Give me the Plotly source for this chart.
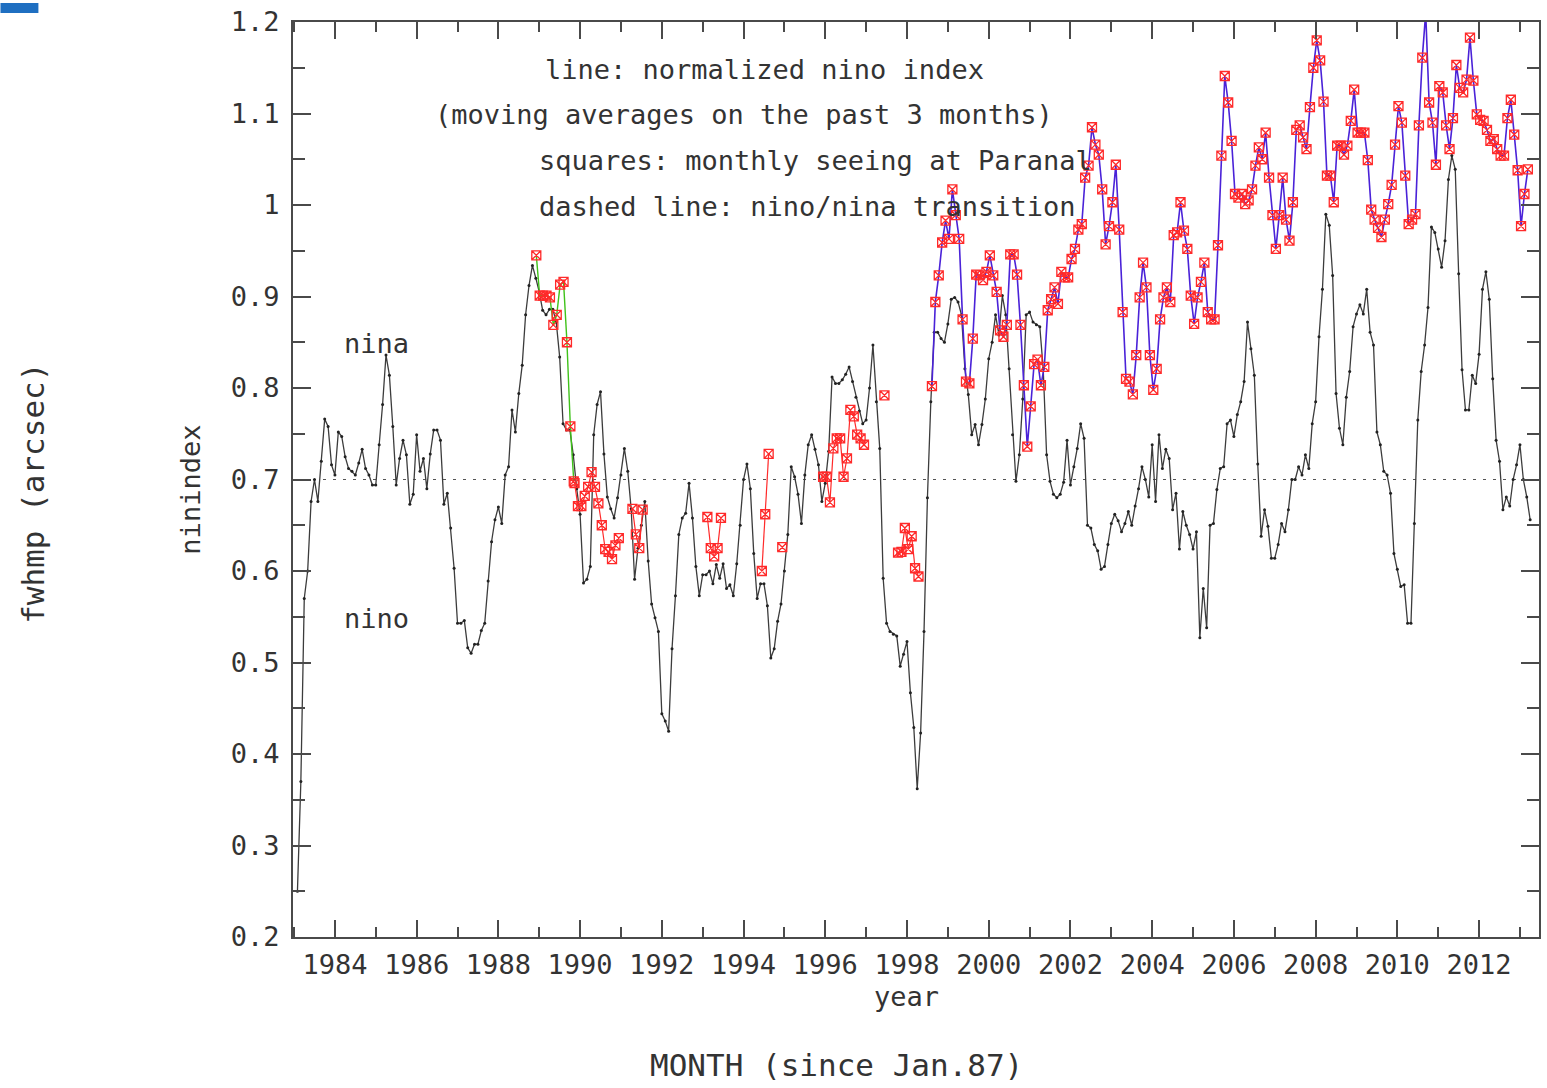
import plotly.graph_objects as go

# ---------------- data ----------------
# normalized nino index (3-month moving average), monthly
nino_start = 1983.083
nino_index = [
    0.25, 0.37, 0.57, 0.60, 0.676, 0.70, 0.676, 0.72, 0.766, 0.758,
    0.716, 0.705, 0.752, 0.747, 0.725, 0.712, 0.709, 0.705, 0.718, 0.733,
    0.712, 0.705, 0.694, 0.694, 0.738, 0.782, 0.836, 0.814, 0.758, 0.694,
    0.723, 0.743, 0.727, 0.673, 0.684, 0.749, 0.709, 0.723, 0.690, 0.728,
    0.754, 0.754, 0.743, 0.673, 0.685, 0.647, 0.603, 0.543, 0.543, 0.546,
    0.516, 0.510, 0.520, 0.520, 0.535, 0.543, 0.589, 0.632, 0.656, 0.670,
    0.652, 0.705, 0.714, 0.776, 0.752, 0.794, 0.825, 0.880, 0.912, 0.934,
    0.920, 0.905, 0.885, 0.880, 0.886, 0.886, 0.872, 0.834, 0.761, 0.754,
    0.754, 0.727, 0.690, 0.662, 0.587, 0.591, 0.605, 0.749, 0.782, 0.796,
    0.728, 0.681, 0.668, 0.658, 0.680, 0.705, 0.734, 0.709, 0.668, 0.591,
    0.625, 0.650, 0.676, 0.611, 0.564, 0.549, 0.534, 0.444, 0.436, 0.425,
    0.515, 0.573, 0.640, 0.658, 0.663, 0.696, 0.658, 0.605, 0.573, 0.596,
    0.596, 0.600, 0.586, 0.607, 0.592, 0.608, 0.581, 0.585, 0.573, 0.608,
    0.650, 0.700, 0.717, 0.690, 0.619, 0.570, 0.586, 0.586, 0.562, 0.505,
    0.515, 0.545, 0.564, 0.600, 0.640, 0.714, 0.703, 0.684, 0.652, 0.705,
    0.738, 0.749, 0.733, 0.716, 0.676, 0.696, 0.731, 0.812, 0.805, 0.805,
    0.809, 0.815, 0.823, 0.807, 0.790, 0.775, 0.761, 0.765, 0.800, 0.847,
    0.785, 0.734, 0.592, 0.543, 0.534, 0.531, 0.529, 0.496, 0.509, 0.523,
    0.467, 0.429, 0.362, 0.423, 0.534, 0.680, 0.785, 0.861, 0.861, 0.854,
    0.850, 0.870, 0.897, 0.899, 0.894, 0.880, 0.821, 0.793, 0.749, 0.760,
    0.738, 0.760, 0.788, 0.832, 0.850, 0.880, 0.858, 0.901, 0.880, 0.821,
    0.749, 0.698, 0.727, 0.788, 0.880, 0.883, 0.872, 0.869, 0.867, 0.821,
    0.727, 0.698, 0.684, 0.680, 0.684, 0.697, 0.743, 0.694, 0.714, 0.734,
    0.761, 0.745, 0.650, 0.647, 0.629, 0.622, 0.602, 0.605, 0.629, 0.652,
    0.662, 0.655, 0.643, 0.652, 0.665, 0.650, 0.671, 0.690, 0.714, 0.700,
    0.681, 0.738, 0.676, 0.749, 0.712, 0.733, 0.723, 0.667, 0.685, 0.624,
    0.665, 0.650, 0.640, 0.624, 0.643, 0.527, 0.581, 0.538, 0.650, 0.652,
    0.689, 0.712, 0.714, 0.761, 0.765, 0.747, 0.771, 0.785, 0.807, 0.872,
    0.843, 0.814, 0.717, 0.638, 0.667, 0.649, 0.614, 0.614, 0.629, 0.652,
    0.643, 0.667, 0.700, 0.700, 0.714, 0.705, 0.727, 0.712, 0.761, 0.785,
    0.856, 0.908, 0.990, 0.978, 0.923, 0.794, 0.756, 0.738, 0.790, 0.818,
    0.867, 0.881, 0.891, 0.881, 0.908, 0.861, 0.847, 0.752, 0.738, 0.709,
    0.705, 0.685, 0.619, 0.602, 0.583, 0.585, 0.543, 0.543, 0.652, 0.765,
    0.818, 0.847, 0.888, 0.976, 0.970, 0.952, 0.932, 0.961, 1.028, 1.054,
    1.039, 0.925, 0.820, 0.776, 0.776, 0.814, 0.805, 0.837, 0.908, 0.927,
    0.897, 0.810, 0.743, 0.720, 0.667, 0.681, 0.671, 0.700, 0.716, 0.738,
    0.700, 0.681, 0.656,
]

# monthly seeing at Paranal (fwhm, arcsec) - three instrument periods
seeing_green_start = 1988.928
seeing_green = [0.945, 0.901, 0.901, 0.901, 0.899, 0.869, 0.880, 0.913,
                0.916, 0.850, 0.758, 0.698]

seeing_red_start = 1989.864
seeing_red = (
    [0.696, 0.671, 0.671, 0.682, 0.692, 0.708, 0.692, 0.674, 0.650, 0.624,
     0.621, 0.613, 0.628, 0.636]
    + [None] * 3
    + [0.668, 0.640, 0.625, 0.667]
    + [None] * 18
    + [0.659, 0.625, 0.616, 0.625, 0.658]
    + [None] * 11
    + [0.600, 0.662, 0.728]
    + [None] * 3
    + [0.626]
    + [None] * 11
    + [0.703, 0.703, 0.675, 0.734, 0.745, 0.745, 0.703, 0.723, 0.776, 0.769,
       0.749, 0.745, 0.738]
    + [None] * 5
    + [0.792]
    + [None] * 3
    + [0.620, 0.621, 0.647, 0.624, 0.638, 0.603, 0.594]
)

seeing_blue_start = 1998.61
seeing_blue = [
    0.802, 0.894, 0.923, 0.959, 0.983, 0.963, 1.017, 0.989, 0.963, 0.875,
    0.807, 0.805, 0.854, 0.924, 0.923, 0.918, 0.927, 0.945, 0.923, 0.905,
    0.863, 0.856, 0.869, 0.946, 0.946, 0.924, 0.869, 0.803, 0.736, 0.780,
    0.826, 0.831, 0.803, 0.823, 0.885, 0.897, 0.910, 0.892, 0.927, 0.921,
    0.921, 0.941, 0.952, 0.973, 0.979, 1.030, 1.043, 1.085, 1.066, 1.055,
    1.017, 0.957, 0.977, 1.003, 1.044, 0.973, 0.883, 0.810, 0.807, 0.793,
    0.836, 0.899, 0.937, 0.910, 0.836, 0.798, 0.821, 0.875, 0.899, 0.910,
    0.894, 0.967, 0.970, 1.003, 0.972, 0.952, 0.901, 0.870, 0.899, 0.916,
    0.937, 0.883, 0.875, 0.875, 0.956, 1.054, 1.141, 1.112, 1.070, 1.012,
    1.008, 1.012, 1.001, 1.005, 1.017, 1.043, 1.063, 1.050, 1.079, 1.030,
    0.989, 0.952, 0.989, 1.030, 0.984, 0.961, 1.003, 1.082, 1.087, 1.074,
    1.061, 1.107, 1.150, 1.180, 1.158, 1.113, 1.032, 1.032, 1.003, 1.065,
    1.065, 1.055, 1.065, 1.092, 1.126, 1.079, 1.079, 1.079, 1.049, 0.995,
    0.984, 0.975, 0.965, 0.984, 1.001, 1.022, 1.066, 1.108, 1.090, 1.032,
    0.979, 0.984, 0.990, 1.087, 1.161, 1.210, 1.112, 1.090, 1.044, 1.130,
    1.123, 1.087, 1.061, 1.095, 1.153, 1.128, 1.123, 1.137, 1.183, 1.136,
    1.099, 1.093, 1.092, 1.082, 1.070, 1.072, 1.061, 1.054, 1.054, 1.095,
    1.115, 1.077, 1.038, 0.977, 1.012, 1.039,
]

transition_level = 0.7
x_major_ticks = list(range(1984, 2013, 2))
x_minor_ticks = list(range(1983, 2014, 2))
y_ticks = [0.2, 0.3, 0.4, 0.5, 0.6, 0.7, 0.8, 0.9, 1.0, 1.1, 1.2]
y_ticktext = ["0.2", "0.3", "0.4", "0.5", "0.6", "0.7", "0.8", "0.9", "1", "1.1", "1.2"]


def months(start, n):
    return [start + k / 12.0 for k in range(n)]


# ---------------- layout helpers ----------------
W, H = 1547, 1088
L, R, T, B = 293, 1541, 19, 937
FONT = "DejaVu Sans Mono"
FS = 27
FS_BIG = 31
TXT = "#333333"


def px(x):
    return (x - L) / (R - L)


def py(y):
    return (B - y) / (B - T)


sq_marker = dict(symbol="square-x-open", size=9, color="#ff2a2a",
                 line=dict(width=1.3, color="#ff2a2a"))

fig = go.Figure()

fig.add_trace(go.Scatter(
    x=months(nino_start, len(nino_index)), y=nino_index,
    mode="lines+markers",
    line=dict(color="#3c3c3c", width=1.3),
    marker=dict(size=3, color="#222222"),
    showlegend=False, hoverinfo="skip"))

fig.add_trace(go.Scatter(
    x=months(seeing_green_start, len(seeing_green)), y=seeing_green,
    mode="lines+markers",
    line=dict(color="#3fc21a", width=1.4),
    marker=sq_marker, showlegend=False, hoverinfo="skip"))

fig.add_trace(go.Scatter(
    x=months(seeing_red_start, len(seeing_red)), y=seeing_red,
    mode="lines+markers", connectgaps=False,
    line=dict(color="#ff2a2a", width=1.2),
    marker=sq_marker, showlegend=False, hoverinfo="skip"))

fig.add_trace(go.Scatter(
    x=months(seeing_blue_start, len(seeing_blue)), y=seeing_blue,
    mode="lines+markers",
    line=dict(color="#4a22d8", width=1.6),
    marker=sq_marker, showlegend=False, hoverinfo="skip"))

# dashed nino/nina transition line
fig.add_shape(type="line", xref="paper", x0=0, x1=1, yref="y",
              y0=transition_level, y1=transition_level,
              line=dict(color="#555555", width=1, dash="3px,7px"), layer="below")

# blue corner mark
fig.add_shape(type="rect", xref="paper", yref="paper",
              x0=px(0), x1=px(38), y0=py(10), y1=py(0),
              fillcolor="#1f6fc1", line=dict(width=0))

annots = [
    dict(text="line: normalized nino index", x=px(765), y=py(67), xanchor="center"),
    dict(text="(moving averages on the past 3 months)", x=px(745), y=py(112), xanchor="center"),
    dict(text="squares: monthly seeing at Paranal", x=px(537), y=py(158), xanchor="left"),
    dict(text="dashed line: nino/nina transition", x=px(537), y=py(204), xanchor="left"),
    dict(text="nina", x=px(342), y=py(342), xanchor="left"),
    dict(text="nino", x=px(342), y=py(617), xanchor="left"),
    dict(text="year", x=px(907), y=py(997), xanchor="center"),
    dict(text="ninindex", x=px(190), y=py(488), xanchor="center", textangle=-90),
]
for a in annots:
    fig.add_annotation(xref="paper", yref="paper", yanchor="middle", showarrow=False,
                       font=dict(family=FONT, size=FS, color=TXT), **a)

big_annots = [
    dict(text="MONTH (since Jan.87)", x=px(837), y=py(1065), xanchor="center"),
    dict(text="fwhmp (arcsec)", x=px(33), y=py(492), xanchor="center", textangle=-90),
]
for a in big_annots:
    fig.add_annotation(xref="paper", yref="paper", yanchor="middle", showarrow=False,
                       font=dict(family=FONT, size=FS_BIG, color=TXT), **a)

axis_common = dict(
    showline=True, linecolor="#4a4a4a", linewidth=2, mirror="ticks",
    ticks="inside", tickcolor="#4a4a4a", tickwidth=1.5,
    showgrid=False, zeroline=False,
    tickfont=dict(family=FONT, size=FS, color=TXT),
)

fig.update_xaxes(range=[1982.974, 2013.466], tickmode="array",
                 tickvals=x_major_ticks, ticklen=17,
                 minor=dict(ticks="inside", tickmode="array", tickvals=x_minor_ticks,
                            ticklen=10, tickcolor="#4a4a4a", tickwidth=1.5, showgrid=False),
                 ticklabelstandoff=3,
                 **axis_common)
fig.update_yaxes(range=[0.2, 1.2], tickmode="array", tickvals=y_ticks,
                 ticktext=y_ticktext, ticklen=18,
                 minor=dict(ticks="inside", dtick=0.05, tick0=0.2, ticklen=12,
                            tickcolor="#4a4a4a", tickwidth=1.5, showgrid=False),
                 ticklabelstandoff=6,
                 **axis_common)

fig.update_layout(
    width=W, height=H,
    margin=dict(l=L, r=W - R, t=T, b=H - B, pad=0),
    paper_bgcolor="white", plot_bgcolor="white",
    showlegend=False,
)

fig.write_html("out.html", config={"displayModeBar": False},
               post_script="document.body.style.margin='0px';")
